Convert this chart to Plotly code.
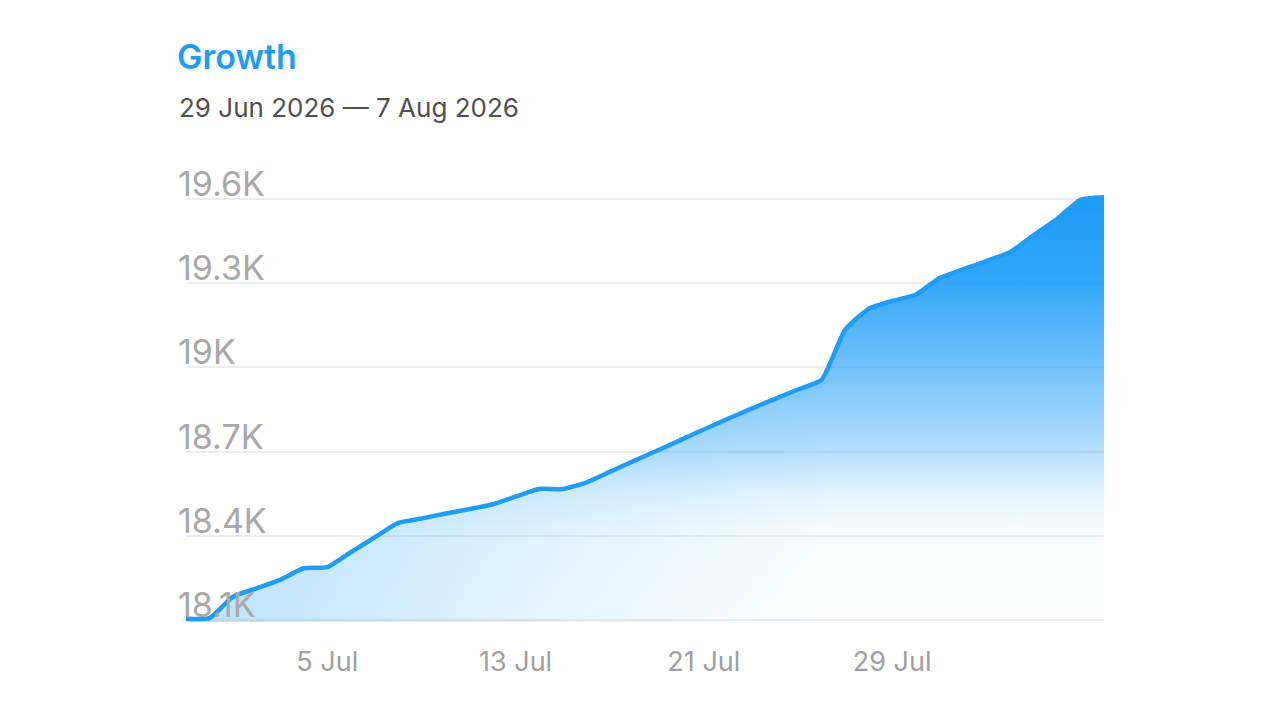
import pandas as pd
import plotly.graph_objects as go

# daily subscriber count, 29 Jun 2026 .. 7 Aug 2026
dates = pd.date_range("2026-06-29", "2026-08-07", freq="D")
subscribers = [
    18106, 18108, 18184, 18214, 18244, 18285, 18289, 18342, 18394, 18446,
    18462, 18479, 18495, 18512, 18540, 18567, 18567, 18590, 18628, 18666,
    18703, 18741, 18779, 18816, 18852, 18887, 18921, 18955, 19133, 19208,
    19236, 19258, 19317, 19348, 19378, 19409, 19469, 19527, 19596, 19605,
]

y_ticks = [18100, 18400, 18700, 19000, 19300, 19600]
y_labels = ["18.1K", "18.4K", "18.7K", "19K", "19.3K", "19.6K"]
x_ticks = ["2026-07-05", "2026-07-13", "2026-07-21", "2026-07-29"]
x_labels = ["5 Jul", "13 Jul", "21 Jul", "29 Jul"]

TITLE = "Growth"
SUBTITLE = "29 Jun 2026 \u2014 7 Aug 2026"

BLUE = "#1d9df7"
FONT = "Inter"

# the page body adds an 8px margin, so the figure is drawn 8px smaller
W, H = 1264, 704

fig = go.Figure()

# soft tint on the left side, fades out to the right
fig.add_trace(go.Scatter(
    x=dates, y=subscribers, mode="lines",
    line=dict(width=0, shape="spline", smoothing=0.5),
    fill="tozeroy",
    fillgradient=dict(
        type="horizontal",
        colorscale=[
            [0.0, "rgba(29,157,247,0.30)"],
            [0.35, "rgba(29,157,247,0.13)"],
            [0.7, "rgba(29,157,247,0.0)"],
            [1.0, "rgba(29,157,247,0.0)"],
        ],
    ),
    hoverinfo="skip", showlegend=False,
))

# main area + line
fig.add_trace(go.Scatter(
    x=dates, y=subscribers, mode="lines",
    line=dict(color=BLUE, width=4.5, shape="spline", smoothing=0.5),
    fill="tozeroy",
    fillgradient=dict(
        type="vertical",
        start=y_ticks[0], stop=max(subscribers),
        colorscale=[
            [0.0, "rgba(29,157,247,0.0)"],
            [0.2, "rgba(29,157,247,0.03)"],
            [0.3, "rgba(29,157,247,0.12)"],
            [0.4, "rgba(29,157,247,0.33)"],
            [0.6, "rgba(29,157,247,0.63)"],
            [0.8, "rgba(29,157,247,0.9)"],
            [1.0, "rgba(29,157,247,1.0)"],
        ],
    ),
    showlegend=False,
))

# y tick labels sit above their gridlines, left aligned
for val, lab in zip(y_ticks, y_labels):
    fig.add_annotation(
        xref="paper", x=0, xanchor="left", xshift=-10,
        yref="y", y=val, yanchor="bottom", yshift=-7,
        text=lab, showarrow=False,
        font=dict(family=FONT, size=34, color="#a8a8a8"),
    )

fig.add_annotation(
    xref="paper", x=0, xanchor="left", xshift=-9,
    yref="paper", y=1, yanchor="middle", yshift=86,
    text=SUBTITLE, showarrow=False,
    font=dict(family=FONT, size=26, color="#505050"),
)

fig.update_layout(
    width=W, height=H,
    margin=dict(l=178, r=168, t=185, b=90),
    paper_bgcolor="white", plot_bgcolor="white",
    title=dict(
        text=TITLE, xref="container", x=169 / W, xanchor="left",
        yref="container", y=1 - 49 / H, yanchor="middle",
        font=dict(family=FONT, size=34, color=BLUE, weight=600),
    ),
    xaxis=dict(
        range=[dates[0], dates[-1]],
        tickvals=x_ticks, ticktext=x_labels,
        showgrid=False, zeroline=False, showline=False, ticks="",
        ticklabelstandoff=21,
        tickfont=dict(family=FONT, size=27, color="#a0a0a0"),
    ),
    yaxis=dict(
        range=[18094, 19620],
        tickvals=y_ticks, showticklabels=False,
        showgrid=True, gridcolor="#ededed", gridwidth=2,
        zeroline=False, showline=False, ticks="",
    ),
    hovermode=False,
)

fig.write_html("out.html")
